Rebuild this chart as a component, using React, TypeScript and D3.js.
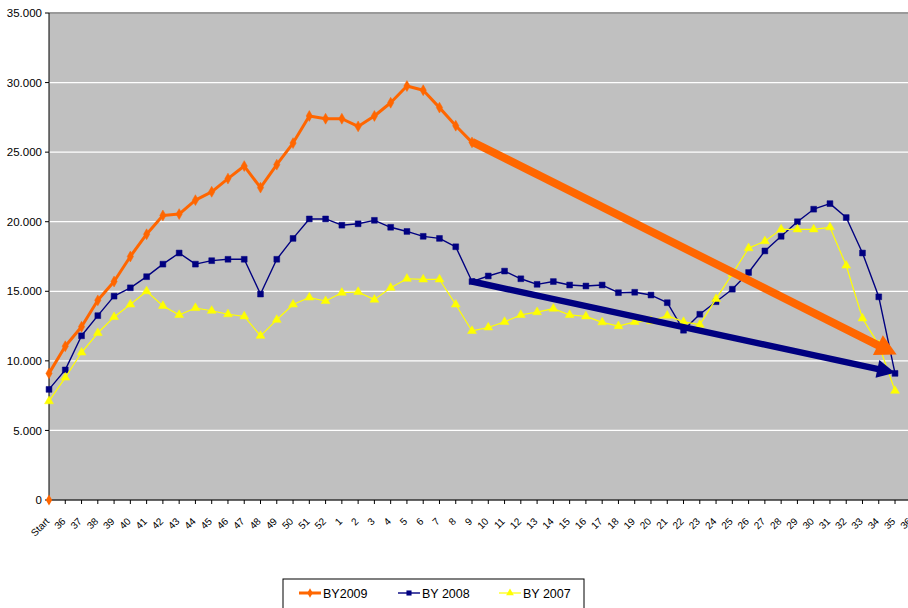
import React from "react";
import * as d3 from "d3";

const categories: string[] = [
  "Start", "36", "37", "38", "39", "40", "41", "42", "43", "44", "45", "46", "47", "48", "49", "50", "51", "52",
  "1", "2", "3", "4", "5", "6", "7", "8", "9", "10", "11", "12", "13", "14", "15", "16", "17", "18", "19", "20",
  "21", "22", "23", "24", "25", "26", "27", "28", "29", "30", "31", "32", "33", "34", "35", "36",
];

const by2009: number[] = [
  9100, 11050, 12450, 14350, 15700, 17500, 19100, 20450, 20550, 21550, 22150, 23100, 24000, 22450, 24100, 25650, 27600, 27400,
  27400, 26850, 27600, 28550, 29750, 29450, 28200, 26900, 25700,
];

const by2008: number[] = [
  7950, 9350, 11800, 13250, 14650, 15250, 16050, 16950, 17750, 16950, 17200, 17300, 17300, 14800, 17300, 18800, 20200, 20200,
  19750, 19850, 20100, 19600, 19300, 18950, 18800, 18200, 15700, 16100, 16450, 15900, 15500, 15700, 15450, 15380, 15450, 14900,
  14930, 14730, 14180, 12200, 13350, 14250, 15150, 16350, 17900, 18950, 20000, 20900, 21300, 20300, 17750, 14600, 9100,
];

const by2007: number[] = [
  7100, 8800, 10600, 12000, 13150, 14050, 15000, 13950, 13300, 13800, 13600, 13350, 13200, 11800, 12950, 14050, 14550, 14300,
  14900, 14950, 14400, 15250, 15900, 15850, 15850, 14050, 12150, 12400, 12800, 13300, 13500, 13750, 13300, 13200, 12770, 12500,
  12800, 12850, 13250, 12800, 12600, 14450, 16250, 18100, 18600, 19450, 19450, 19450, 19600, 16850, 13050, 11150, 7850,
];

// extra orange point at the origin
const originPoint: number[] = [0];

const yTicks: number[] = [0, 5000, 10000, 15000, 20000, 25000, 30000, 35000];

// trend arrows: [category index, value]
const orangeArrow: [number, number][] = [[26, 25750], [52.1, 10450]];
const blueArrow: [number, number][] = [[26, 15700], [52.0, 9150]];

const series = [
  { name: "BY2009", values: by2009, color: "#FF6600", width: 3, symbol: d3.symbolDiamond, size: 34 },
  { name: "BY 2008", values: by2008, color: "#000080", width: 1.4, symbol: d3.symbolSquare, size: 34 },
  { name: "BY 2007", values: by2007, color: "#FFFF00", width: 1.2, symbol: d3.symbolTriangle, size: 34 },
];

const W = 908;
const H = 608;
const left = 49;
const top = 13;
const bottom = 500;
const right = 911.3;
const font = "'Liberation Sans', Arial, sans-serif";

export default function App() {
  const x = d3.scalePoint<string>().domain(categories.map((c, i) => i + ":" + c)).range([left, right]);
  const xi = d3.scaleLinear().domain([0, categories.length - 1]).range([left, right]);
  const y = d3.scaleLinear().domain([0, 35000]).range([bottom, top]);
  const line = d3.line<number>().x((_, i) => xi(i)).y((v) => y(v));

  const arrow = (pts: [number, number][], color: string, sw: number, headLen: number, headHalf: number) => {
    const [x0, y0] = [xi(pts[0][0]), y(pts[0][1])];
    const [x1, y1] = [xi(pts[1][0]), y(pts[1][1])];
    const dx = x1 - x0, dy = y1 - y0;
    const len = Math.hypot(dx, dy);
    const ux = dx / len, uy = dy / len;
    const bx = x1 - ux * headLen, by = y1 - uy * headLen;
    const px = -uy, py = ux;
    const poly = [
      [x1, y1],
      [bx + px * headHalf, by + py * headHalf],
      [bx - px * headHalf, by - py * headHalf],
    ].map((p) => p.join(",")).join(" ");
    return (
      <g>
        <line x1={x0} y1={y0} x2={bx + ux * 2} y2={by + uy * 2} stroke={color} strokeWidth={sw} />
        <polygon points={poly} fill={color} />
      </g>
    );
  };

  const legendItems = [
    { s: series[0], x0: 299, tx: 323 },
    { s: series[1], x0: 398, tx: 422 },
    { s: series[2], x0: 499, tx: 523 },
  ];

  return (
    <svg width={W} height={H} style={{ position: "absolute", left: 0, top: 0, background: "#fff" }} fontFamily={font}>
      <rect x={left} y={top} width={W - left + 10} height={bottom - top} fill="#C0C0C0" />
      {yTicks.filter((t) => t > 0).map((t) => (
        <line key={t} x1={left} x2={W + 10} y1={y(t)} y2={y(t)} stroke={t === 35000 ? "#9a9a9a" : "#ffffff"} strokeWidth={t === 35000 ? 2 : 1.2} />
      ))}
      {/* axes */}
      <line x1={left} x2={left} y1={top} y2={bottom} stroke="#000" strokeWidth={1} />
      <line x1={left} x2={W + 10} y1={bottom} y2={bottom} stroke="#333" strokeWidth={1.5} />
      {yTicks.map((t) => (
        <g key={"yt" + t}>
          <line x1={left - 4} x2={left} y1={y(t)} y2={y(t)} stroke="#000" />
          <text x={42} y={y(t)} dy="0.36em" textAnchor="end" fontSize={11.5} fill="#000">
            {t === 0 ? "0" : d3.format(",")(t).replace(/,/g, ".")}
          </text>
        </g>
      ))}
      {categories.map((c, i) => (
        <g key={"xt" + i}>
          <line x1={xi(i)} x2={xi(i)} y1={bottom} y2={bottom + 4} stroke="#000" />
          <text transform={`translate(${xi(i) + 1},${bottom + 22}) rotate(-45)`} textAnchor="end" fontSize={10} fill="#000">
            {c}
          </text>
        </g>
      ))}
      {/* series */}
      {series.map((s) => (
        <g key={s.name}>
          <path d={line(s.values) || ""} fill="none" stroke={s.color} strokeWidth={s.width} strokeLinejoin="round" />
          {s.values.map((v, i) => (
            <path key={i} transform={`translate(${xi(i)},${y(v)})`} d={d3.symbol(s.symbol, s.size)() || ""} fill={s.color} stroke={s.color} strokeWidth={0.5} />
          ))}
        </g>
      ))}
      {originPoint.map((v, i) => (
        <path key={"o" + i} transform={`translate(${xi(i)},${y(v)})`} d={d3.symbol(d3.symbolDiamond, 34)() || ""} fill="#FF6600" />
      ))}
      {arrow(orangeArrow, "#FF6600", 8, 21, 11)}
      {arrow(blueArrow, "#000080", 6.5, 18, 9)}
      {/* legend */}
      <rect x={283} y={579} width={301} height={40} fill="#fff" stroke="#000" strokeWidth={1} />
      {legendItems.map(({ s, x0, tx }) => (
        <g key={"lg" + s.name}>
          <line x1={x0} x2={x0 + 22} y1={593} y2={593} stroke={s.color} strokeWidth={s.width} />
          <path transform={`translate(${x0 + 11},593)`} d={d3.symbol(s.symbol, 26)() || ""} fill={s.color} />
          <text x={tx} y={593} dy="0.36em" fontSize={12.5} fill="#000">{s.name}</text>
        </g>
      ))}
    </svg>
  );
}
